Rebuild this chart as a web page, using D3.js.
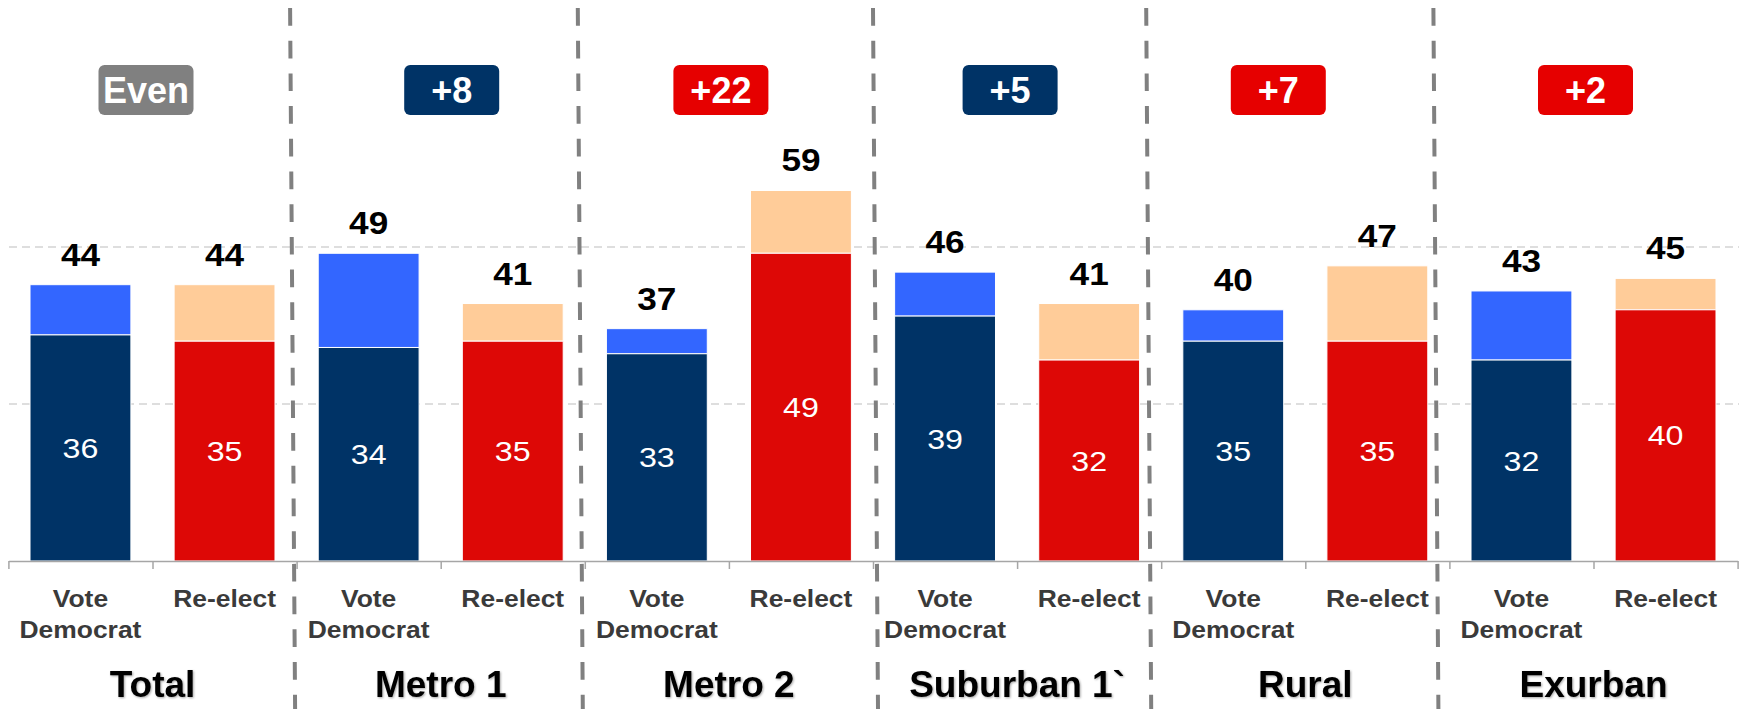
<!DOCTYPE html>
<html>
<head>
<meta charset="utf-8">
<script src="https://cdn.jsdelivr.net/npm/d3@7/dist/d3.min.js"></script>
<style>
  html, body { margin: 0; padding: 0; background: #fff; }
  svg { display: block; font-family: "Liberation Sans", Arial, sans-serif; }
</style>
</head>
<body>
<svg id="plot"></svg>
<script>
// Define data
const groups = ['Total', 'Metro 1', 'Metro 2', 'Suburban 1`', 'Rural', 'Exurban'];
const measures = ['Vote Democrat', 'Re-elect'];
const voteBase = [36, 34, 33, 39, 35, 32];
const voteTotal = [44, 49, 37, 46, 40, 43];
const reelectBase = [35, 35, 49, 32, 35, 40];
const reelectTotal = [44, 41, 59, 41, 47, 45];
const badgeLabels = ['Even', '+8', '+22', '+5', '+7', '+2'];
const badgeParty = ['even', 'dem', 'rep', 'dem', 'rep', 'rep'];
const gridValues = [25, 50];

// hand placed bits of the original slide (badges and dividers are not exactly centred)
const badgeNudge = [-6.5, 11, -8, -7, -27, -8];
const dividerNudge = [-6.5, -7, 0, -15, -16];

let width = 1739;
let height = 709;

let colors = {
    voteBase: '#003366', voteTop: '#3366ff',
    reBase: '#dd0806', reTop: '#ffcc99',
    even: '#808080', dem: '#003366', rep: '#e60000'
};

let svg = d3.select('#plot')
    .attr('width', width)
    .attr('height', height);

// Scales
let x0 = d3.scaleBand()
    .domain(groups)
    .range([8.4, 1737.6]);
let x1 = d3.scaleBand()
    .domain(measures)
    .range([0, x0.bandwidth()])
    .paddingInner(0.3)
    .paddingOuter(0.15);
let yScale = d3.scaleLinear()
    .domain([0, 60])
    .range([561, 184.2]);

// One row per bar
let rows = groups.flatMap((g, i) => [
    { group: g, measure: measures[0], base: voteBase[i], total: voteTotal[i], baseColor: colors.voteBase, topColor: colors.voteTop },
    { group: g, measure: measures[1], base: reelectBase[i], total: reelectTotal[i], baseColor: colors.reBase, topColor: colors.reTop }
]);
let barX = d => x0(d.group) + x1(d.measure);
let barMid = d => barX(d) + x1.bandwidth() / 2;

// Grid lines
svg.selectAll('.grid')
    .data(gridValues)
    .enter()
    .append('line')
    .attr('class', 'grid')
    .attr('x1', 9)
    .attr('x2', width)
    .attr('y1', d => yScale(d))
    .attr('y2', d => yScale(d))
    .style('stroke', '#d4d4d4')
    .style('stroke-width', 1.5)
    .style('stroke-dasharray', '8,5');

// Stacked bars
let bars = svg.selectAll('.bar')
    .data(rows)
    .enter()
    .append('g')
    .attr('class', 'bar');

bars.append('rect')
    .attr('x', barX)
    .attr('width', x1.bandwidth())
    .attr('y', d => yScale(d.total))
    .attr('height', d => yScale(d.base) - yScale(d.total))
    .style('fill', d => d.topColor)
    .style('stroke', '#fff')
    .style('stroke-width', 1);

bars.append('rect')
    .attr('x', barX)
    .attr('width', x1.bandwidth())
    .attr('y', d => yScale(d.base))
    .attr('height', d => yScale(0) - yScale(d.base))
    .style('fill', d => d.baseColor)
    .style('stroke', '#fff')
    .style('stroke-width', 1);

// Total labels above bars
bars.append('text')
    .attr('transform', d => `translate(${barMid(d)}, ${yScale(d.total) - 19}) scale(1.1, 1)`)
    .attr('text-anchor', 'middle')
    .style('font-size', '32px')
    .style('font-weight', 'bold')
    .style('fill', '#000')
    .text(d => d.total);

// Base labels inside bars
bars.append('text')
    .attr('transform', d => `translate(${barMid(d)}, ${(yScale(d.base) + yScale(0)) / 2 + 10}) scale(1.15, 1)`)
    .attr('text-anchor', 'middle')
    .style('font-size', '28px')
    .style('fill', '#fff')
    .text(d => d.base);

// Category axis
let tickScale = d3.scaleLinear()
    .domain([0, groups.length * measures.length])
    .range(x0.range());
let axis = svg.append('g')
    .attr('transform', `translate(0, ${yScale(0)})`)
    .call(d3.axisBottom(tickScale)
        .tickValues(d3.range(groups.length * measures.length + 1))
        .tickSize(8)
        .tickSizeOuter(0)
        .tickFormat(''));
axis.selectAll('path, line')
    .style('stroke', '#a6a6a6')
    .style('stroke-width', 1.5);

// Measure labels
let catLabels = svg.selectAll('.cat')
    .data(rows)
    .enter()
    .append('text')
    .attr('class', 'cat')
    .attr('transform', d => `translate(${barMid(d)}, 606.7) scale(1.15, 1)`)
    .attr('text-anchor', 'middle')
    .style('font-size', '23px')
    .style('font-weight', 'bold')
    .style('fill', '#3a3a3a');
catLabels.selectAll('tspan')
    .data(d => d.measure === 'Vote Democrat' ? ['Vote', 'Democrat'] : [d.measure])
    .enter()
    .append('tspan')
    .attr('x', 0)
    .attr('dy', (d, i) => i === 0 ? 0 : 31.6)
    .text(d => d);

// Group labels
svg.selectAll('.group-label')
    .data(groups)
    .enter()
    .append('text')
    .attr('class', 'group-label')
    .attr('x', d => x0(d) + x0.bandwidth() / 2)
    .attr('y', 696.7)
    .attr('text-anchor', 'middle')
    .style('font-size', '37px')
    .style('font-weight', 'bold')
    .style('fill', '#000')
    .style('filter', 'drop-shadow(1.5px 1.5px 1px rgba(0,0,0,0.35))')
    .text(d => d);

// Dashed dividers between groups
svg.selectAll('.divider')
    .data(groups.slice(1))
    .enter()
    .append('line')
    .attr('class', 'divider')
    .attr('x1', (d, i) => x0(d) + dividerNudge[i])
    .attr('x2', (d, i) => x0(d) + dividerNudge[i] + 5)
    .attr('y1', 8)
    .attr('y2', height)
    .style('stroke', '#808080')
    .style('stroke-width', 4)
    .style('stroke-dasharray', '17.7,15');

// Margin badges
let badges = svg.selectAll('.badge')
    .data(groups)
    .enter()
    .append('g')
    .attr('class', 'badge')
    .attr('transform', (d, i) => `translate(${x0(d) + x0.bandwidth() / 2 + badgeNudge[i]}, 90)`);

badges.append('rect')
    .attr('x', -47.5)
    .attr('y', -25)
    .attr('width', 95)
    .attr('height', 50)
    .attr('rx', 6)
    .style('fill', (d, i) => colors[badgeParty[i]]);

badges.append('text')
    .attr('y', 13.3)
    .attr('text-anchor', 'middle')
    .style('font-size', '36px')
    .style('font-weight', 'bold')
    .style('fill', '#fff')
    .text((d, i) => badgeLabels[i]);
</script>
</body>
</html>
